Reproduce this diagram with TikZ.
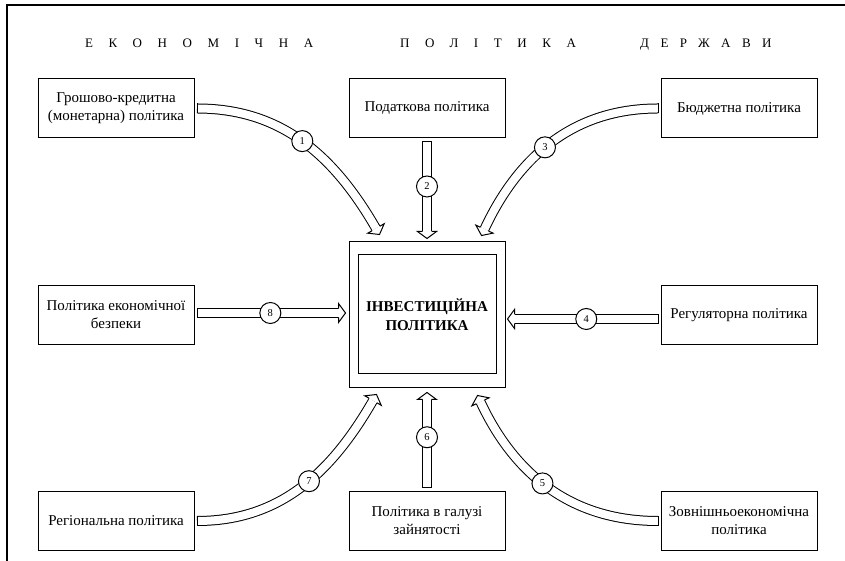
\documentclass[tikz,border=0pt]{standalone}
\usepackage{fontspec}
\setmainfont{Liberation Serif}
\usetikzlibrary{calc}
\tikzset{
  pbox/.style={draw, line width=1pt, minimum width=156pt, minimum height=59pt, align=center, inner sep=2pt, font=\fontsize{15}{18}\selectfont},
  numc/.style={circle, draw, fill=white, line width=1pt, minimum size=21pt, inner sep=0pt, font=\fontsize{10.5}{12}\selectfont},
  shaftline/.style={double=white, double distance=8pt, line width=1pt},
  headline/.style={fill=white, line width=1pt, line join=miter},
  titleword/.style={font=\fontsize{13}{15}\selectfont\addfontfeature{LetterSpace=#1}, inner sep=0pt, anchor=base west},
  frameline/.style={line width=1.2pt},
}
\newcommand\ahHL{7pt}
\newcommand\ahHW{9.5pt}
\newcommand\ahSW{4.5pt}
% #1 start, #2 out angle, #3 in angle, #4 tip, #5 number, #6 pos
\newcommand\hollowarrow[6]{%
  \coordinate (hb#5) at ($(#4)+(#3:\ahHL)$);
  \draw[shaftline] (#1) to[out=#2,in=#3] node[numc,pos=#6] (n#5) {#5} (hb#5);
  \draw[line width=1pt] ($(#1)+(#2+90:\ahSW+0.5pt)$) -- ($(#1)+(#2-90:\ahSW+0.5pt)$);
  \filldraw[headline] ($(hb#5)+(#3+90:\ahSW)$) -- ($(hb#5)+(#3+90:\ahHW)$) -- (#4) -- ($(hb#5)+(#3-90:\ahHW)$) -- ($(hb#5)+(#3-90:\ahSW)$);
}
\begin{document}
\begin{tikzpicture}[x=1pt,y=1pt]
\useasboundingbox (0,0) rectangle (845,561);
% frame
\coordinate (fl) at (7,0);
\coordinate (ftl) at (7,556);
\coordinate (ftr) at (845,556);
\draw[frameline] (fl) -- (ftl) -- (ftr);
% title
\node[titleword=120] (t1) at (85,513.5) {ЕКОНОМІЧНА};
\node[titleword=120] (t2) at (400,513.5) {ПОЛІТИКА};
\node[titleword=88] (t3) at (640,513.5) {ДЕРЖАВИ};
% boxes
\node[pbox] (b1) at (116,452.5) {Грошово-кредитна\\(монетарна) політика};
\node[pbox] (b2) at (427,453) {Податкова політика};
\node[pbox] (b3) at (739,452.5) {Бюджетна політика};
\node[pbox] (b8) at (116,246) {Політика економічної\\безпеки};
\node[pbox] (b4) at (739,246) {Регуляторна політика};
\node[pbox] (b7) at (116,40) {Регіональна політика};
\node[pbox] (b6) at (427,40) {Політика в галузі\\зайнятості};
\node[pbox] (b5) at (739,40) {Зовнішньоекономічна\\політика};
% centre
\node[draw, line width=1pt, minimum width=156pt, minimum height=146pt] (cb) at (427,246) {};
\node[draw, line width=1pt, minimum width=138pt, minimum height=119pt, align=center, font=\fontsize{15}{18.5}\selectfont\bfseries] (ci) at (427,246.5) {ІНВЕСТИЦІЙНА\\ПОЛІТИКА};
% arrows
\hollowarrow{$(b1.east)+(2.5,0)$}{0}{120}{$(cb.north west)+(31,7)$}{1}{0.5}
\hollowarrow{$(b2.south)+(0,-3.5)$}{-90}{90}{$(cb.north)+(0,3)$}{2}{0.5}
\hollowarrow{$(b3.west)+(-2.5,0)$}{180}{65}{$(cb.north east)+(-24,6)$}{3}{0.55}
\hollowarrow{$(b4.west)+(-2.5,-4)$}{180}{0}{$(cb.east)+(2,-4)$}{4}{0.5}
\hollowarrow{$(b5.west)+(-2.5,0)$}{180}{-65}{$(cb.south east)+(-28,-7)$}{5}{0.55}
\hollowarrow{$(b6.north)+(0,3)$}{90}{-90}{$(cb.south)+(0,-4)$}{6}{0.58}
\hollowarrow{$(b7.east)+(2.5,0)$}{0}{-120}{$(cb.south west)+(28,-6)$}{7}{0.55}
\hollowarrow{$(b8.east)+(2.5,2)$}{0}{180}{$(cb.west)+(-3,2)$}{8}{0.52}
\end{tikzpicture}
\end{document}
